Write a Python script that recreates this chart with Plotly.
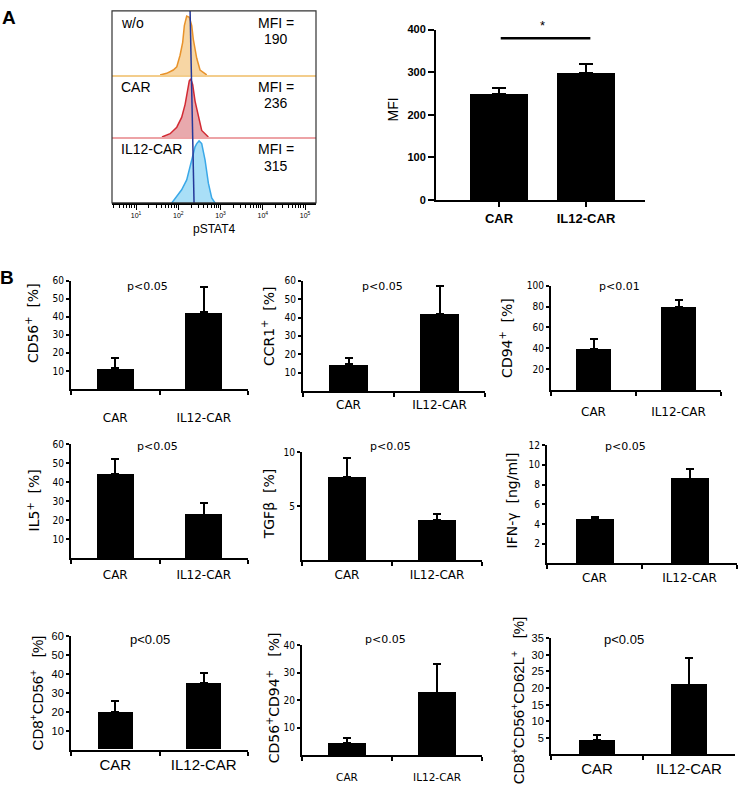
import plotly.graph_objects as go

W, H = 739, 791

# ---------------- data ----------------
groups = ["CAR", "IL12-CAR"]

# Panel A: pSTAT4 flow histograms (intensity, relative count %)
hist_labels = ["w/o", "CAR", "IL12-CAR"]
hist_mfi = [190, 236, 315]
wo_int = [37, 53, 76, 92, 110, 127, 139, 158, 182, 208, 226, 273, 327, 471]
wo_cnt = [0, 2.5, 7.7, 12.8, 30.8, 51, 77, 92, 90, 77, 56, 26, 7.7, 0]
car_int = [41, 64, 92, 120, 145, 164, 182, 197, 219, 249, 299, 358, 515]
car_cnt = [0, 5.3, 15.8, 31.6, 52.6, 73.7, 90.5, 93.7, 84.2, 57.9, 31.6, 10.5, 0]
il12_int = [70, 92, 120, 158, 208, 249, 273, 310, 358, 430, 515, 618, 741]
il12_cnt = [0, 10, 20, 35, 65, 85, 90, 94, 90, 65, 30, 7.5, 0]
gate_line_x = [190, 236]          # top, bottom
hist_ticks = [10, 100, 1000, 10000, 100000]
hist_ticktext = ["10<sup>1</sup>", "10<sup>2</sup>", "10<sup>3</sup>", "10<sup>4</sup>", "10<sup>5</sup>"]

# Panel A: MFI bar chart
mfi_mean = [250, 298]
mfi_sem = [14, 21]
mfi_sig_y = 380

# Panel B
cd56_mean = [11.5, 42.5];        cd56_sem = [5.5, 14.0]
ccr1_mean = [14.5, 42.0];        ccr1_sem = [3.5, 15.0]
cd94_mean = [39.5, 80.0];        cd94_sem = [9.5, 6.5]
il5_mean = [44.5, 23.0];         il5_sem = [7.5, 6.0]
tgfb_mean = [7.7, 3.7];          tgfb_sem = [1.75, 0.6]
ifng_mean = [4.5, 8.6];          ifng_sem = [0.2, 1.0]
cd8cd56_mean = [19.8, 35.0];     cd8cd56_sem = [5.8, 5.7]
cd56cd94_mean = [4.5, 22.8];     cd56cd94_sem = [2.0, 10.2]
cd8cd56cd62l_mean = [4.4, 21.0]; cd8cd56cd62l_sem = [1.6, 8.0]

p_values = ["p<0.05", "p<0.05", "p<0.01", "p<0.05", "p<0.05", "p<0.05",
            "p<0.05", "p<0.05", "p<0.05"]

# ---------------- helpers ----------------
def dx(x0, x1):
    return [x0 / W, x1 / W]

def dy(ytop, ybot):
    return [1 - ybot / H, 1 - ytop / H]

def px(x):
    return x / W

def py(y):
    return 1 - y / H

AR = "Liberation Sans, Arial, sans-serif"
DV = "DejaVu Sans, Verdana, sans-serif"
DVC = "DejaVu Sans Condensed, DejaVu Sans, sans-serif"

annotations = []
shapes = []
layout = {}


def note(x, y, text, font, xanchor="center", angle=0):
    annotations.append(dict(x=px(x), y=py(y), xref="paper", yref="paper", text=text,
                            showarrow=False, xanchor=xanchor, yanchor="middle",
                            textangle=angle, font=font))


fig = go.Figure()

# ---------------- Panel A histograms ----------------
HX0, HX1 = 112, 316
strip_px = [(5, 70), (70, 133), (133, 200)]
hist_int = [wo_int, car_int, il12_int]
hist_cnt = [wo_cnt, car_cnt, il12_cnt]
fills = ["rgba(243,192,115,0.65)", "rgba(216,112,118,0.6)", "rgba(112,202,242,0.6)"]
lines = ["#e8922a", "#d22a33", "#3aa8e8"]
base_cols = ["#f3cd8c", "#eda3a6", "black"]
logrange = [0.43, 5.26]
minor_vals = [k * 10 ** d for d in range(0, 6) for k in range(2, 10)]
f14 = dict(family=AR, size=14, color="black")

for i in range(3):
    n = i + 1
    fig.add_trace(go.Scatter(
        x=hist_int[i], y=hist_cnt[i], mode="lines", fill="tozeroy",
        fillcolor=fills[i], line=dict(color=lines[i], width=1.5),
        xaxis=f"x{n}", yaxis=f"y{n}", showlegend=False, hoverinfo="skip"))
    xa = dict(domain=dx(HX0, HX1), type="log", range=logrange, anchor=f"y{n}",
              showline=True, linecolor=base_cols[i], linewidth=1.5,
              showgrid=False, zeroline=False, showticklabels=False, ticks="")
    if i == 2:
        xa.update(showticklabels=True, tickmode="array", tickvals=hist_ticks,
                  ticktext=hist_ticktext, ticks="outside", ticklen=5, tickwidth=1,
                  tickcolor="black", tickfont=dict(family=AR, size=7, color="black"),
                  minor=dict(tickmode="array", tickvals=minor_vals, ticks="outside",
                             ticklen=3, tickwidth=1, tickcolor="black", showgrid=False))
    layout[f"xaxis{n}"] = xa
    layout[f"yaxis{n}"] = dict(domain=dy(*strip_px[i]), range=[0, 100], visible=False,
                               anchor=f"x{n}")
    top = strip_px[i][0]
    note(119, top + 12, hist_labels[i], f14, xanchor="left")
    note(276, top + 12.5, "MFI =", f14)
    note(276, top + 29, str(hist_mfi[i]), f14)

# gate line overlay
fig.add_trace(go.Scatter(x=gate_line_x, y=[1, 0], mode="lines",
                         line=dict(color="#24389a", width=1.5),
                         xaxis="x4", yaxis="y4", showlegend=False, hoverinfo="skip"))
layout["xaxis4"] = dict(domain=dx(HX0, HX1), type="log", range=logrange, visible=False,
                        anchor="y4")
layout["yaxis4"] = dict(domain=dy(5, 200), range=[0, 1], visible=False, anchor="x4")

shapes.append(dict(type="rect", xref="paper", yref="paper", x0=px(HX0), x1=px(HX1),
                   y0=py(200), y1=py(5), line=dict(color="#333333", width=1.2),
                   layer="above"))
note(214, 226, "pSTAT4", dict(family=AR, size=12, color="black"))

# ---------------- Panel A bar chart ----------------
fig.add_trace(go.Bar(
    x=groups, y=mfi_mean, width=0.67, marker=dict(color="black", line=dict(width=0)),
    error_y=dict(type="data", symmetric=False, array=mfi_sem, arrayminus=[0, 0],
                 color="black", thickness=2, width=7),
    xaxis="x5", yaxis="y5", showlegend=False, hoverinfo="skip"))
layout["xaxis5"] = dict(domain=dx(436, 645), type="category", range=[-0.724, 1.678],
                        anchor="y5", showline=True, linecolor="black", linewidth=2,
                        ticks="outside", ticklen=5, tickwidth=2, tickcolor="black",
                        showgrid=False, zeroline=False,
                        tickfont=dict(family=AR, size=13, color="black", weight="bold"))
layout["yaxis5"] = dict(domain=dy(24, 197), range=[0, 400], anchor="x5",
                        tickvals=[0, 100, 200, 300, 400], showline=True, linecolor="black",
                        linewidth=2, ticks="outside", ticklen=6, tickwidth=2,
                        tickcolor="black", showgrid=False, zeroline=False,
                        tickfont=dict(family=AR, size=11, color="black", weight="bold"))
shapes.append(dict(type="line", xref="x5", yref="y5", x0=0.02, x1=1.05,
                   y0=mfi_sig_y, y1=mfi_sig_y, line=dict(color="black", width=2.5)))
annotations.append(dict(x=0.5, y=mfi_sig_y, xref="x5", yref="y5", text="*",
                        showarrow=False, xanchor="center", yanchor="bottom", yshift=3,
                        font=dict(family=AR, size=13, color="black")))
note(393, 105, "MFI", f14, angle=-90)

# ---------------- Panel B ----------------
panels = [
    dict(mean=cd56_mean, sem=cd56_sem, ymax=60, tv=[10, 20, 30, 40, 50, 60],
         box=(71, 279, 248, 389), lab="CD56<sup>+</sup>  [%]", labpos=(32, 322),
         ppos=(147, 285), font="dv", xfs=12, so=17, w=0.42),
    dict(mean=ccr1_mean, sem=ccr1_sem, ymax=60, tv=[10, 20, 30, 40, 50, 60],
         box=(303, 279, 485, 391), lab="CCR1<sup>+</sup>  [%]", labpos=(268, 325),
         ppos=(382, 285), font="dv", xfs=12, so=2, w=0.42),
    dict(mean=cd94_mean, sem=cd94_sem, ymax=100, tv=[20, 40, 60, 80, 100],
         box=(551, 284, 721, 390), lab="CD94<sup>+</sup>  [%]", labpos=(506, 337),
         ppos=(619, 285), font="dv", xfs=12, so=10, w=0.42),
    dict(mean=il5_mean, sem=il5_sem, ymax=60, tv=[10, 20, 30, 40, 50, 60],
         box=(71, 445, 248, 561), lab="IL5<sup>+</sup>  [%]", labpos=(34, 502),
         ppos=(157, 447), font="dv", xfs=12, so=4, w=0.42),
    dict(mean=tgfb_mean, sem=tgfb_sem, ymax=10, tv=[5, 10],
         box=(302, 453, 482, 563), lab="TGFβ  [%]", labpos=(269, 506),
         ppos=(390, 447), font="dv", xfs=12, so=2, w=0.42),
    dict(mean=ifng_mean, sem=ifng_sem, ymax=12, tv=[2, 4, 6, 8, 10, 12],
         box=(547, 446, 737, 566), lab="IFN-γ  [ng/ml]", labpos=(512, 502),
         ppos=(625, 447), font="dv", xfs=12, so=2, w=0.40),
    dict(mean=cd8cd56_mean, sem=cd8cd56_sem, ymax=60, tv=[10, 20, 30, 40, 50, 60],
         box=(71, 640, 248, 755), lab="CD8<sup>+</sup>CD56<sup>+</sup>   [%]",
         labpos=(36, 698), ppos=(150, 643), font="ar", xfs=15, so=0, w=0.40),
    dict(mean=cd56cd94_mean, sem=cd56cd94_sem, ymax=40, tv=[10, 20, 30, 40],
         box=(302, 649, 482, 761), lab="CD56<sup>+</sup>CD94<sup>+</sup>   [%]",
         labpos=(273, 703), ppos=(385, 643), font="dv", xfs=10.5, so=11, w=0.42),
    dict(mean=cd8cd56cd62l_mean, sem=cd8cd56cd62l_sem, ymax=35,
         tv=[5, 10, 15, 20, 25, 30, 35],
         box=(551, 642, 735, 760),
         lab="CD8<sup>+</sup>CD56<sup>+</sup>CD62L<sup>+</sup>   [%]",
         labpos=(517, 705), ppos=(624, 643), font="ar", xfs=15, so=0, w=0.40),
]

for k, p in enumerate(panels):
    n = 6 + k
    x0, yt, x1, yb = p["box"]
    if p["font"] == "ar":
        tickf = dict(family=AR, size=11, color="black")
        xf = dict(family=AR, size=p["xfs"], color="black")
        labf = dict(family=AR, size=15, color="black")
        pf = dict(family=AR, size=13, color="black")
    else:
        tickf = dict(family=DVC, size=10, color="black")
        xf = dict(family=DV, size=p["xfs"], color="black")
        labf = dict(family=DV, size=14, color="black")
        pf = dict(family=DV, size=11, color="black")
    fig.add_trace(go.Bar(
        x=groups, y=p["mean"], width=p["w"],
        marker=dict(color="black", line=dict(width=0)),
        error_y=dict(type="data", symmetric=False, array=p["sem"], arrayminus=[0, 0],
                     color="black", thickness=2, width=4),
        xaxis=f"x{n}", yaxis=f"y{n}", showlegend=False, hoverinfo="skip"))
    layout[f"xaxis{n}"] = dict(domain=dx(x0, x1), type="category", range=[-0.5, 1.5],
                               anchor=f"y{n}", tickson="boundaries", ticks="outside",
                               ticklen=4, tickwidth=1.5, tickcolor="black",
                               showline=True, linecolor="black", linewidth=2,
                               showgrid=False, zeroline=False, tickfont=xf,
                               ticklabelstandoff=p["so"])
    layout[f"yaxis{n}"] = dict(domain=dy(yt, yb), range=[0, p["ymax"]], anchor=f"x{n}",
                               tickmode="array", tickvals=p["tv"], ticks="outside",
                               ticklen=3, tickwidth=1.5, tickcolor="black",
                               showline=True, linecolor="black", linewidth=2,
                               showgrid=False, zeroline=False, tickfont=tickf)
    note(p["labpos"][0], p["labpos"][1], p["lab"], labf, angle=-90)
    note(p["ppos"][0], p["ppos"][1], p_values[k], pf)

# panel letters
note(9, 12, "<b>A</b>", dict(family=AR, size=19, color="black"))
note(7, 276, "<b>B</b>", dict(family=AR, size=19, color="black"))

layout.update(dict(width=W, height=H, margin=dict(l=0, r=0, t=0, b=0),
                   paper_bgcolor="white", plot_bgcolor="rgba(0,0,0,0)",
                   font=dict(family=AR, size=12, color="black"),
                   showlegend=False, annotations=annotations, shapes=shapes,
                   bargap=0))
fig.update_layout(**layout)
fig.write_html("out.html", config={"displayModeBar": False},
               post_script="document.body.style.margin='0';")
